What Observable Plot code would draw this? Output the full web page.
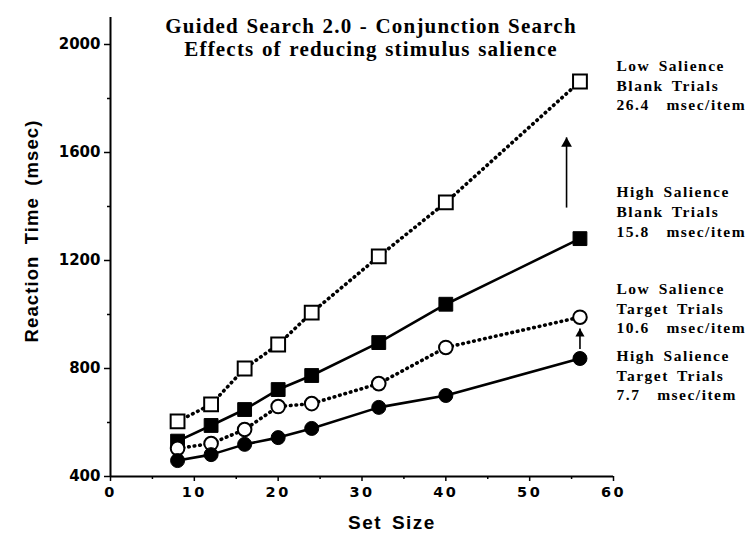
<!DOCTYPE html>
<html><head><meta charset="utf-8">
<script src="https://cdn.jsdelivr.net/npm/d3@7"></script>
<script src="https://cdn.jsdelivr.net/npm/@observablehq/plot@0.6"></script>
<style>
body{margin:0;background:#fff}
#chart svg{display:block}
g[aria-label="x-axis tick label"]{letter-spacing:2.5px}
g[font-family^="Liberation Serif"][font-size="21"]{letter-spacing:1.2px;word-spacing:1px}
g[font-family^="Liberation Serif"][font-size="15.5"]{letter-spacing:1.5px;word-spacing:3px}
g[font-family^="Liberation Sans"][font-size="18.5"]{letter-spacing:1.1px;word-spacing:5px}
g[font-family^="Liberation Sans"][font-size="19"]{letter-spacing:1.5px;word-spacing:3px}
</style>
</head><body><div id="chart"></div>
<script>
// ---- data ----
const setSizes = [8, 12, 16, 20, 24, 32, 40, 56];
const lowBlank   = [604, 667, 800, 889, 1007, 1215, 1415, 1863];
const highBlank  = [531, 589, 648, 722, 774, 896, 1038, 1281];
const lowTarget  = [504, 522, 574, 659, 670, 744, 878, 990];
const highTarget = [459, 481, 519, 544, 578, 656, 700, 837];

const seriesLabels = [
  "Low Salience\nBlank Trials\n26.4  msec/item",
  "High Salience\nBlank Trials\n15.8  msec/item",
  "Low Salience\nTarget Trials\n10.6  msec/item",
  "High Salience\nTarget Trials\n7.7  msec/item"
];
const labelY = [1852, 1385, 1026, 778];

const arrowX    = [54.4, 56];
const arrowFrom = [1396, 872];
const arrowTo   = [1656, 948];

const yTicks = [400, 800, 1200, 1600, 2000];
const yMinor = [600, 1000, 1400, 1800];
const xTicks = [0, 10, 20, 30, 40, 50, 60];
const xMinor = [5, 15, 25, 35, 45, 55];

const titleLines = ["Guided Search 2.0 - Conjunction Search", "Effects of reducing stimulus salience"];
const xLabel = "Set Size";
const yLabel = "Reaction Time (msec)";

// ---- build tables ----
const toRows = (vals) => setSizes.map((x, i) => ({x, y: vals[i]}));
const rLowBlank = toRows(lowBlank), rHighBlank = toRows(highBlank),
      rLowTarget = toRows(lowTarget), rHighTarget = toRows(highTarget);
const labels = seriesLabels.map((t, i) => ({text: t, y: labelY[i]}));
const arrows = arrowX.map((x, i) => ({x, from: arrowFrom[i], to: arrowTo[i]}));

const serif = "Liberation Serif, Times New Roman, serif";
const sans = "Liberation Sans, Arial, sans-serif";
const dotted = {strokeWidth: 3.6, strokeDasharray: "0.6 5", strokeLinecap: "round", stroke: "black"};
const solid = {strokeWidth: 2.6, stroke: "black"};

const chart = Plot.plot({
  width: 748, height: 536,
  marginLeft: 110, marginRight: 135, marginTop: 17, marginBottom: 60,
  x: {domain: [0, 60]},
  y: {domain: [400, 2100]},
  style: {background: "white", color: "black"},
  marks: [
    Plot.axisY({ticks: yTicks, tickSize: 6, tickPadding: 4, tickFormat: d => String(d), fontSize: 15, fontWeight: "bold", fontFamily: "DejaVu Sans", label: null, strokeWidth: 1.5}),
    Plot.axisY({ticks: yMinor, tickSize: 3, tickFormat: () => "", label: null, strokeWidth: 1.5}),
    Plot.axisX({ticks: xTicks, tickSize: 5, tickPadding: 5, tickFormat: d => String(d), fontSize: 14.5, fontWeight: "bold", fontFamily: "DejaVu Sans", label: null, strokeWidth: 1.5}),
    Plot.axisX({ticks: xMinor, tickSize: 3, tickFormat: () => "", label: null, strokeWidth: 1.5}),
    Plot.ruleX([0], {strokeWidth: 2}),
    Plot.ruleY([400], {strokeWidth: 2}),
    Plot.line(rLowBlank, {x: "x", y: "y", ...dotted}),
    Plot.line(rHighBlank, {x: "x", y: "y", ...solid}),
    Plot.line(rLowTarget, {x: "x", y: "y", ...dotted}),
    Plot.line(rHighTarget, {x: "x", y: "y", ...solid}),
    Plot.dot(rLowBlank, {x: "x", y: "y", symbol: "square", r: 7.8, fill: "white", stroke: "black", strokeWidth: 2}),
    Plot.dot(rHighBlank, {x: "x", y: "y", symbol: "square", r: 7.8, fill: "black", stroke: "black", strokeWidth: 1}),
    Plot.dot(rLowTarget, {x: "x", y: "y", symbol: "circle", r: 6.8, fill: "white", stroke: "black", strokeWidth: 2}),
    Plot.dot(rHighTarget, {x: "x", y: "y", symbol: "circle", r: 7, fill: "black", stroke: "black", strokeWidth: 1}),
    Plot.link(arrows, {x1: "x", y1: "from", x2: "x", y2: "to", stroke: "black", strokeWidth: 1.6}),
    Plot.dot(arrows.slice(0, 1), {x: "x", y: "to", symbol: "triangle", r: 4, fill: "black", dy: 6.2}),
    Plot.dot(arrows.slice(1), {x: "x", y: "to", symbol: "triangle", r: 3.4, fill: "black", dy: 5.3}),
    Plot.text([titleLines.join("\n")], {frameAnchor: "top", lineAnchor: "top", textAnchor: "middle", dx: 9, dy: 0, lineHeight: 1.06, fontFamily: serif, fontWeight: "bold", fontSize: 21, fill: "black"}),
    Plot.text(labels, {x: () => 60, y: "y", text: "text", textAnchor: "start", dx: 3, lineHeight: 1.27, fontFamily: serif, fontWeight: "bold", fontSize: 15.5, fill: "black"}),
    Plot.text([yLabel], {frameAnchor: "left", rotate: -90, textAnchor: "middle", lineAnchor: "middle", dx: -78, dy: -16, fontFamily: sans, fontWeight: "bold", fontSize: 18.5, fill: "black"}),
    Plot.text([xLabel], {frameAnchor: "bottom", textAnchor: "middle", lineAnchor: "middle", dx: 30, dy: 46, fontFamily: sans, fontWeight: "bold", fontSize: 19, fill: "black"})
  ]
});
document.getElementById("chart").appendChild(chart);
</script>
</body></html>
